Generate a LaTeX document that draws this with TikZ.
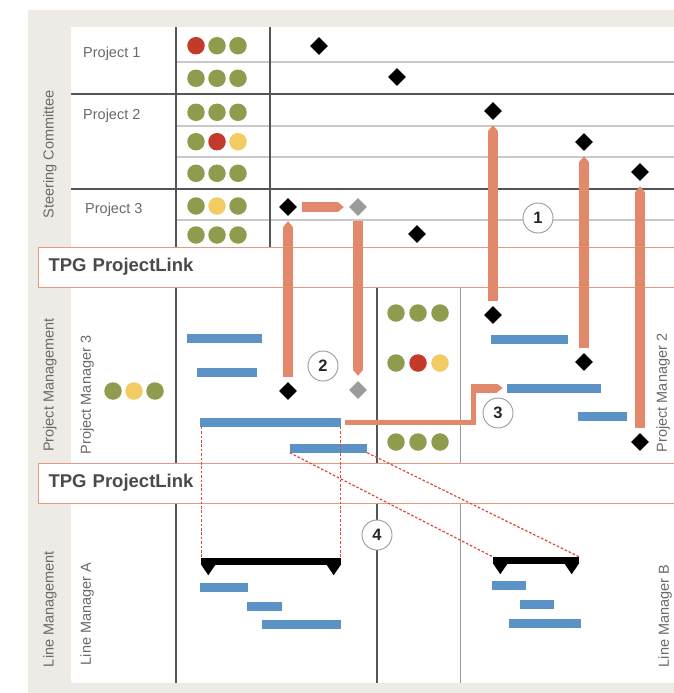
\documentclass[tikz,border=0pt]{standalone}
\usepackage{fontspec}
\setmainfont{Liberation Sans}
\usetikzlibrary{shapes.geometric,arrows.meta,calc}
\definecolor{bggrey}{HTML}{EEEBE6}
\definecolor{darkln}{HTML}{555555}
\definecolor{thinln}{HTML}{C9C9C9}
\definecolor{orng}{HTML}{E2896B}
\definecolor{boxorng}{HTML}{E39A80}
\definecolor{barblue}{HTML}{5B93C6}
\definecolor{olive}{HTML}{8F9C4E}
\definecolor{tlred}{HTML}{C43A2A}
\definecolor{tlyel}{HTML}{F2CB62}
\definecolor{txtgrey}{HTML}{6A6A6A}
\definecolor{tpgtxt}{HTML}{4A4A4A}
\definecolor{dashred}{HTML}{DB4A40}
\definecolor{diagrey}{HTML}{9B9B9B}
\definecolor{circln}{HTML}{9A9A9A}
\begin{document}
\begin{tikzpicture}[x=1pt,y=-1pt,
  dia/.style={diamond, fill=black, inner sep=0pt, minimum width=18pt, minimum height=18pt},
  gdia/.style={dia, fill=diagrey},
  light/.style={circle, inner sep=0pt, minimum size=17.5pt},
  bar/.style={rectangle, fill=barblue, inner sep=0pt, minimum height=9pt, minimum width=#1},
  brk/.style={rectangle, fill=black, inner sep=0pt, minimum height=7pt, minimum width=#1},
  lbl/.style={font=\fontsize{14.5}{16}\selectfont, text=txtgrey, inner sep=0pt},
  vlbl/.style={lbl, rotate=90},
  tpg/.style={draw=boxorng, fill=white, line width=1pt, inner xsep=10pt, inner ysep=0pt,
     text width=620pt, align=left, minimum height=40pt, anchor=west,
     font=\bfseries\fontsize{18.5}{20}\selectfont, text=tpgtxt},
  arr/.style={draw=orng, line width=10pt, -{Triangle[width=10pt,length=6pt,line width=0pt]},
     shorten >=5pt, shorten <=5pt},
  circ/.style={circle, draw=circln, fill=white, line width=0.9pt, minimum size=30pt, inner sep=0pt,
     font=\bfseries\fontsize{16.5}{16}\selectfont, text=black!85},
  darkline/.style={draw=darkln, line width=1.8pt},
  thinline/.style={draw=thinln, line width=1.1pt},
  dashln/.style={draw=dashred, line width=1.2pt, dash pattern=on 2.6pt off 1.8pt}
]
\useasboundingbox (0,0) rectangle (674,693);
\clip (0,0) rectangle (674,693);
% backgrounds
\fill[white] (0,0) rectangle (674,693);
\fill[bggrey] (28,10) rectangle (674,693);
\fill[white] (71,27) rectangle (674,683);

% steering committee grid
\foreach \yy in {62,126,157,220} \draw[thinline] (176,\yy) -- (674,\yy);
\foreach \yy in {94,189} \draw[darkline] (71,\yy) -- (674,\yy);
\draw[darkline] (176,27) -- (176,683);
\draw[darkline] (270,27) -- (270,247);
\draw[darkline, line width=2.2pt] (377,287) -- (377,683);
\draw[draw=circln, line width=1pt] (460,287) -- (460,683);

% TPG boxes
\node[tpg] (tpg1) at (38,267) {TPG ProjectLink};
\node[tpg] (tpg2) at (38,483) {TPG ProjectLink};

% labels
\node[lbl, anchor=base west] (p1) at (83,58) {Project 1};
\node[lbl, anchor=base west] (p2) at (83,119) {Project 2};
\node[lbl, anchor=base west] (p3) at (85,213) {Project 3};
\node[vlbl] (sc) at (50,154) {Steering Committee};
\node[vlbl] (pm) at (50,385) {Project Management};
\node[vlbl] (lm) at (50,609) {Line Management};
\node[vlbl] (pm3) at (87,395) {Project Manager 3};
\node[vlbl] (lma) at (87,614) {Line Manager A};
\node[vlbl] (pm2) at (663,393) {Project Manager 2};
\node[vlbl] (lmb) at (665,616) {Line Manager B};

% traffic lights
\foreach \yy/\ca/\cb/\cc [count=\i] in {45.7/tlred/olive/olive, 78.3/olive/olive/olive,
   112.3/olive/olive/olive, 141.7/olive/tlred/tlyel, 173.3/olive/olive/olive,
   206/olive/tlyel/olive, 235/olive/olive/olive} {
  \node[light, fill=\ca] (s\i-a) at (196,\yy) {};
  \node[light, fill=\cb] (s\i-b) at (217,\yy) {};
  \node[light, fill=\cc] (s\i-c) at (238,\yy) {};
}
\node[light, fill=olive] (m0-a) at (113,391) {};
\node[light, fill=tlyel] (m0-b) at (134,391) {};
\node[light, fill=olive] (m0-c) at (155,391) {};
\foreach \yy/\ca/\cb/\cc [count=\i] in {313/olive/olive/olive, 363/olive/tlred/tlyel, 442/olive/olive/olive} {
  \node[light, fill=\ca] (m\i-a) at (396,\yy) {};
  \node[light, fill=\cb] (m\i-b) at (418,\yy) {};
  \node[light, fill=\cc] (m\i-c) at (440,\yy) {};
}

% blue bars
\node[bar=75pt] (b1) at (224.5,338) {};
\node[bar=60pt] (b2) at (227,372) {};
\node[bar=141pt] (b3) at (270.5,422) {};
\node[bar=77pt] (b4) at (328.5,448) {};
\node[bar=77pt] (b5) at (529.5,339) {};
\node[bar=94pt] (b6) at (554,388) {};
\node[bar=49pt] (b7) at (602.5,416) {};
\node[bar=48pt] (a1) at (224,587) {};
\node[bar=35pt] (a2) at (264.5,606) {};
\node[bar=79pt] (a3) at (301.5,624) {};
\node[bar=34pt] (c1) at (509,585) {};
\node[bar=34pt] (c2) at (537,604) {};
\node[bar=72pt] (c3) at (545,623) {};

% brackets
\node[brk=140pt] (brA) at (271,561.5) {};
\node[brk=86pt] (brB) at (536,560.5) {};
\foreach \b in {brA,brB} {
  \fill ([yshift=1pt]\b.south west) -- ++(15,0) -- ++(-7.5,11) -- cycle;
  \fill ([yshift=1pt]\b.south east) -- ++(-15,0) -- ++(7.5,11) -- cycle;
}

% dashed links
\draw[dashln] ([xshift=1.5pt]b3.south west) -- ([xshift=1.5pt]b3.south west |- brA.north);
\draw[dashln] ([xshift=-1pt]b3.south east) -- ([xshift=-1pt]b3.south east |- brA.north);
\draw[dashln] (b4.south west) -- (brB.north west);
\draw[dashln] (b4.south east) -- (brB.north east);

% diamonds
\node[dia] (d1) at (319,46) {};
\node[dia] (d2) at (397,77) {};
\node[dia] (d3) at (493,111) {};
\node[dia] (d4) at (584,142) {};
\node[dia] (d5) at (640,172) {};
\node[dia] (d6) at (288,207) {};
\node[gdia] (g1) at (358,207) {};
\node[dia] (d7) at (417,234) {};
\node[dia] (e1) at (288,391) {};
\node[gdia] (g2) at (358,390) {};
\node[dia] (e3) at (493,315) {};
\node[dia] (e4) at (584,362) {};
\node[dia] (e5) at (640,442) {};

% orange connectors
\draw[arr] (d6) -- (g1);
\draw[arr] (e1) -- (d6);
\draw[arr] (g1) -- (g2);
\draw[arr] (e3) -- (d3);
\draw[arr] (e4) -- (d4);
\draw[arr] (e5) -- (d5);
\coordinate (k3) at (473.5,388);
\draw[draw=orng, line width=5pt] ([xshift=4pt]b3.east) -| (k3);
\draw[arr, line width=9pt, -{Triangle[width=9pt,length=6pt,line width=0pt]}, shorten <=0pt, shorten >=4pt]
   ([xshift=-2.5pt]k3) -- (b6.west);

% circled numbers
\node[circ] (n1) at (538,218) {1};
\node[circ] (n2) at (323,366) {2};
\node[circ] (n3) at (498,413) {3};
\node[circ] (n4) at (377,535) {4};
\end{tikzpicture}
\end{document}
